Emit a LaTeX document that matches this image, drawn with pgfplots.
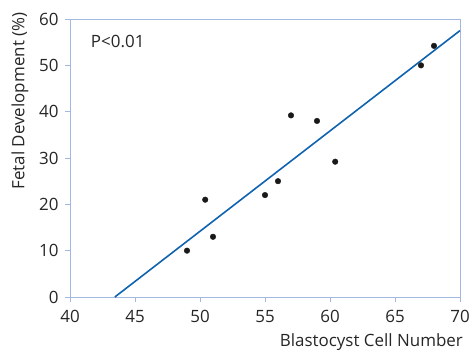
\documentclass[border=0pt]{standalone}
\usepackage{pgfplots}
\pgfplotsset{compat=1.18}
\usepackage{fontspec}
\setmainfont{Open Sans}
\definecolor{axblue}{HTML}{A3B7E3}
\definecolor{lineblue}{HTML}{0F62B0}
\begin{document}
\begin{tikzpicture}
\path[use as bounding box] (-70bp,-56bp) rectangle (401bp,297bp);
\begin{axis}[
  scale only axis,
  width=390bp, height=278bp,
  xmin=40, xmax=70, ymin=0, ymax=60,
  xtick={40,45,...,70}, ytick={0,10,...,60},
  axis line style={axblue, line width=0.9pt},
  tick style={axblue, line width=0.9pt},
  major tick length=5bp,
  tick align=outside,
  xtick pos=bottom, ytick pos=left,
  font=\fontsize{17}{20}\selectfont,
  /pgf/number format/assume math mode=true,
  ticklabel style={font=\fontsize{17}{20}\selectfont, text=black!85},
  xticklabel style={yshift=-4.5bp},
  yticklabel style={xshift=-3bp},
  xlabel={Blastocyst Cell Number},
  ylabel={Fetal Development (\%)},
  xlabel style={at={(rel axis cs:1,0)}, anchor=north east, inner sep=0pt, yshift=-36bp, xshift=3bp, font=\fontsize{17}{20}\selectfont, text=black!85},
  ylabel style={at={(axis description cs:-0.128,0.705)}, anchor=center, font=\fontsize{17}{20}\selectfont, text=black!85},
  clip=false,
]
\addplot[only marks, mark=*, mark size=2.8bp, mark options={fill=black!90, draw=black!90}] coordinates {
(49,10) (50.4,21) (51,13) (55,22) (56,25) (57,39.2) (59,38) (60.4,29.2) (67,50) (68,54.2)
};
\addplot[lineblue, line width=1.6pt] coordinates {(43.45,0) (70,57.5)};
\node[anchor=west, inner sep=0pt, font=\fontsize{17}{20}\selectfont, text=black!85] at (axis cs:41.6,55.1) {P<0.01};
\end{axis}
\end{tikzpicture}
\end{document}
